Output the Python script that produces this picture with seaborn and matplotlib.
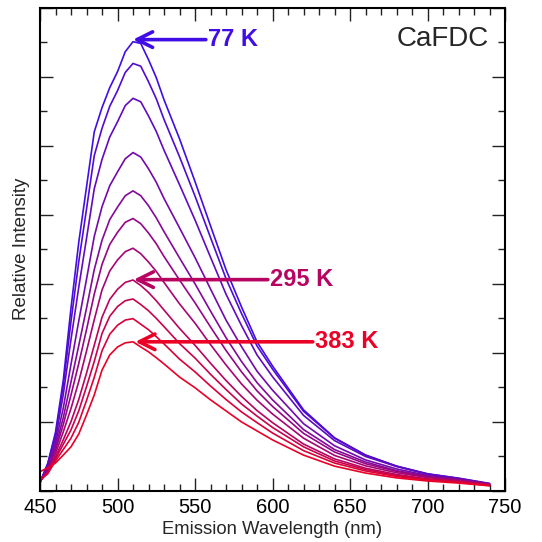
import numpy as np
import pandas as pd
import matplotlib
matplotlib.use("Agg")
import matplotlib.pyplot as plt
from matplotlib.ticker import MultipleLocator
import seaborn as sns

# ---- data (relative intensity, arbitrary units) ----
wavelength = [450, 455, 460, 465, 470, 475, 480, 485, 490, 495, 500, 505, 510, 515, 520,
              525, 530, 540, 550, 560, 570, 580, 590, 600, 620, 640, 660, 680, 700, 720, 740]

series_names = ["77 K", "T2", "T3", "T4", "T5", "T6", "T7", "295 K", "T9", "T10", "383 K"]

s01 = [0.25, 0.80, 1.70, 3.20, 5.30, 7.20, 8.80, 10.40, 11.10, 11.68, 12.14, 12.72, 13.01, 12.96, 12.49,
       11.97, 11.33, 10.20, 8.96, 7.68, 6.41, 5.33, 4.32, 3.62, 2.35, 1.54, 1.04, 0.72, 0.49, 0.35, 0.20]
s02 = [0.24, 0.78, 1.62, 3.04, 4.91, 6.64, 8.16, 9.71, 10.50, 11.14, 11.59, 12.12, 12.38, 12.30, 11.85,
       11.36, 10.76, 9.68, 8.54, 7.34, 6.15, 5.14, 4.20, 3.53, 2.31, 1.53, 1.04, 0.72, 0.50, 0.37, 0.21]
s03 = [0.24, 0.75, 1.50, 2.79, 4.39, 5.90, 7.31, 8.75, 9.60, 10.25, 10.69, 11.16, 11.37, 11.27, 10.86,
       10.41, 9.87, 8.87, 7.85, 6.77, 5.70, 4.79, 3.94, 3.31, 2.19, 1.46, 1.00, 0.71, 0.49, 0.37, 0.22]
s04 = [0.25, 0.70, 1.38, 2.40, 3.67, 4.92, 6.13, 7.37, 8.23, 8.84, 9.24, 9.62, 9.80, 9.67, 9.33,
       8.94, 8.47, 7.62, 6.76, 5.85, 4.95, 4.18, 3.47, 2.92, 1.95, 1.31, 0.90, 0.64, 0.45, 0.34, 0.21]
s05 = [0.26, 0.66, 1.27, 2.12, 3.16, 4.21, 5.29, 6.41, 7.26, 7.86, 8.22, 8.55, 8.69, 8.55, 8.26,
       7.91, 7.51, 6.75, 6.00, 5.21, 4.44, 3.75, 3.14, 2.64, 1.78, 1.20, 0.84, 0.59, 0.43, 0.32, 0.20]
s06 = [0.27, 0.62, 1.18, 1.92, 2.78, 3.69, 4.67, 5.70, 6.56, 7.14, 7.49, 7.78, 7.89, 7.74, 7.47,
       7.16, 6.79, 6.11, 5.45, 4.75, 4.07, 3.45, 2.90, 2.45, 1.67, 1.13, 0.79, 0.57, 0.41, 0.32, 0.20]
s07 = [0.28, 0.58, 1.08, 1.71, 2.39, 3.17, 4.05, 4.96, 5.82, 6.37, 6.69, 6.93, 7.03, 6.87, 6.63,
       6.36, 6.04, 5.42, 4.86, 4.24, 3.65, 3.10, 2.63, 2.23, 1.53, 1.03, 0.73, 0.53, 0.39, 0.30, 0.19]
s08 = [0.29, 0.55, 0.99, 1.48, 2.01, 2.65, 3.41, 4.22, 5.03, 5.55, 5.84, 6.04, 6.11, 5.95, 5.75,
       5.51, 5.24, 4.71, 4.22, 3.70, 3.20, 2.74, 2.33, 1.98, 1.36, 0.93, 0.66, 0.48, 0.35, 0.28, 0.18]
s09 = [0.30, 0.52, 0.93, 1.35, 1.77, 2.32, 3.02, 3.75, 4.56, 5.06, 5.34, 5.51, 5.56, 5.40, 5.22,
       5.00, 4.76, 4.27, 3.85, 3.38, 2.94, 2.52, 2.17, 1.84, 1.28, 0.87, 0.62, 0.45, 0.34, 0.27, 0.17]
s10 = [0.32, 0.50, 0.87, 1.20, 1.53, 1.99, 2.62, 3.29, 4.06, 4.54, 4.80, 4.95, 4.99, 4.83, 4.67,
       4.47, 4.26, 3.82, 3.45, 3.04, 2.65, 2.29, 1.98, 1.68, 1.17, 0.81, 0.58, 0.42, 0.32, 0.25, 0.16]
s11 = [0.56, 0.67, 0.81, 1.04, 1.28, 1.65, 2.20, 2.78, 3.50, 3.94, 4.17, 4.29, 4.32, 4.17, 4.03,
       3.86, 3.68, 3.30, 2.99, 2.64, 2.32, 2.00, 1.74, 1.48, 1.04, 0.72, 0.52, 0.38, 0.29, 0.23, 0.15]

all_series = [s01, s02, s03, s04, s05, s06, s07, s08, s09, s10, s11]

x_ticks = [450, 500, 550, 600, 650, 700, 750]

# ---- build long table ----
frames = []
for name, vals in zip(series_names, all_series):
    frames.append(pd.DataFrame({"wavelength": wavelength, "intensity": vals, "series": name}))
df = pd.concat(frames, ignore_index=True)

# colours: blue -> red
c_blue = np.array([0.25, 0.05, 0.90])
c_red = np.array([0.92, 0.0, 0.15])
n = len(series_names)
palette = [tuple(c_blue + (c_red - c_blue) * i / (n - 1)) for i in range(n)]

sns.set_style("ticks")
plt.rcParams["font.family"] = ["Liberation Sans", "DejaVu Sans"]

fig = plt.figure(figsize=(5.42, 5.42), dpi=100)
ax = fig.add_axes([40 / 542, 51 / 542, 465 / 542, 483.5 / 542])

sns.lineplot(data=df, x="wavelength", y="intensity", hue="series", hue_order=series_names,
             palette=palette, estimator=None, sort=False, linewidth=1.2, legend=False, ax=ax)

ax.set_xlim(450, 750)
ax.set_ylim(0, 14)
ax.set_xticks(x_ticks)
ax.xaxis.set_minor_locator(MultipleLocator(10))
ax.yaxis.set_major_locator(MultipleLocator(2))
ax.yaxis.set_minor_locator(MultipleLocator(1))
ax.set_yticklabels([])
ax.tick_params(axis="both", which="both", direction="in", top=True, right=True,
               color="#222222", labelcolor="black")
ax.tick_params(axis="both", which="major", length=9.5, width=1.0, labelsize=14.5)
ax.tick_params(axis="both", which="minor", length=4.8, width=1.0)
ax.tick_params(axis="x", which="major", pad=5)
for sp in ax.spines.values():
    sp.set_linewidth(1.5)
    sp.set_color("black")

ax.set_xlabel("Emission Wavelength (nm)", fontsize=13.3, labelpad=3)
ax.set_ylabel("Relative Intensity", fontsize=13.5, labelpad=4)

ax.text(0.965, 0.935, "CaFDC", transform=ax.transAxes, ha="right", va="center", fontsize=20)

ann = [("77 K", 510, 13.07, 557, palette[0]),
       ("295 K", 510.5, 6.12, 597, palette[7]),
       ("383 K", 511.5, 4.32, 626, palette[10])]
for label, tx, ty, lx, col in ann:
    ax.annotate("", xy=(tx, ty), xytext=(lx, ty),
                arrowprops=dict(arrowstyle="->", lw=2.6, color=col, mutation_scale=28,
                                shrinkA=0, shrinkB=0))
    ax.text(lx + 1.5, ty, label, color=col, fontsize=17, fontweight="bold", va="center", ha="left")

fig.savefig("out.png", dpi=100, facecolor="white")
